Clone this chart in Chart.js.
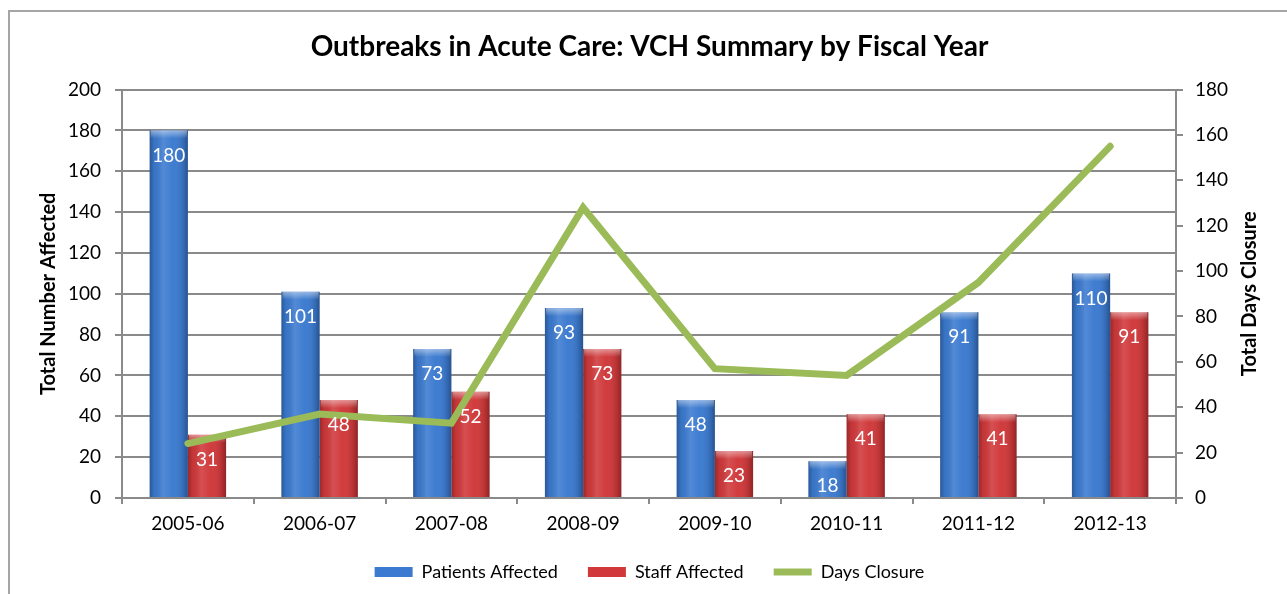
<!DOCTYPE html>
<html>
<head>
<meta charset="utf-8">
<title>Outbreaks in Acute Care</title>
<script src="https://cdn.jsdelivr.net/npm/chart.js@4.4.1/dist/chart.umd.min.js"></script>
<style>
  html, body { margin: 0; padding: 0; background: #fff; overflow: hidden; }
  #wrap { position: relative; width: 1287px; height: 594px; }
  #frame { position: absolute; left: 8px; top: 10px; width: 1320px; height: 620px;
           border: 2px solid #a5a5a5; box-sizing: border-box; }
  #chart { position: absolute; left: 0; top: 0; }
</style>
</head>
<body>
<div id="wrap">
  <div id="frame"></div>
  <canvas id="chart" width="1287" height="594"></canvas>
</div>
<script>
// fiscal years and counts per year
const years = ['2005-06', '2006-07', '2007-08', '2008-09', '2009-10', '2010-11', '2011-12', '2012-13'];
const patientsAffected = [180, 101, 73, 93, 48, 18, 91, 110];
const staffAffected = [31, 48, 52, 73, 23, 41, 41, 91];
const daysClosure = [24, 37, 33, 128, 57, 54, 95, 155];

const FONT = 'Lato, "Open Sans", sans-serif';
const gridGray = '#8a8a8a';

// shading so the bars look like rounded columns
const barShade = {
    id: 'barShade',
    afterDatasetDraw(chart, args) {
        if (args.meta.type !== 'bar') return;
        const ctx = chart.ctx;
        ctx.save();
        args.meta.data.forEach(function (bar) {
            const p = bar.getProps(['x', 'y', 'base', 'width'], true);
            const left = p.x - p.width / 2;
            const h = p.base - p.y;
            let g = ctx.createLinearGradient(left, 0, left + p.width, 0);
            g.addColorStop(0, 'rgba(0,0,0,0.28)');
            g.addColorStop(0.12, 'rgba(0,0,0,0.05)');
            g.addColorStop(0.35, 'rgba(255,255,255,0.12)');
            g.addColorStop(0.6, 'rgba(255,255,255,0.02)');
            g.addColorStop(0.88, 'rgba(0,0,0,0.12)');
            g.addColorStop(1, 'rgba(0,0,0,0.32)');
            ctx.fillStyle = g;
            ctx.fillRect(left, p.y, p.width, h);
            // lighter cap on top
            let cap = ctx.createLinearGradient(0, p.y, 0, p.y + 8);
            cap.addColorStop(0, 'rgba(255,255,255,0.45)');
            cap.addColorStop(1, 'rgba(255,255,255,0)');
            ctx.fillStyle = cap;
            ctx.fillRect(left + 1, p.y, p.width - 2, Math.min(8, h));
        });
        ctx.restore();
    }
};

// value labels inside the bars, axis titles
const extras = {
    id: 'extras',
    afterDatasetsDraw(chart) {
        const ctx = chart.ctx;
        ctx.save();
        ctx.fillStyle = '#ffffff';
        ctx.font = '19px ' + FONT;
        ctx.textAlign = 'center';
        ctx.textBaseline = 'middle';
        [0, 1].forEach(function (i) {
            const meta = chart.getDatasetMeta(i);
            meta.data.forEach(function (bar, j) {
                ctx.fillText(String(chart.data.datasets[i].data[j]), bar.x, bar.y + 25);
            });
        });
        ctx.restore();
    },
    afterDraw(chart) {
        const ctx = chart.ctx;
        const area = chart.chartArea;
        const midY = (area.top + area.bottom) / 2;
        ctx.save();
        ctx.fillStyle = '#000';
        ctx.font = 'bold 20px ' + FONT;
        ctx.textAlign = 'center';
        ctx.textBaseline = 'middle';
        ctx.translate(area.left - 73, midY);
        ctx.rotate(-Math.PI / 2);
        ctx.fillText('Total Number Affected', 0, 0);
        ctx.restore();
        ctx.save();
        ctx.fillStyle = '#000';
        ctx.font = 'bold 20px ' + FONT;
        ctx.textAlign = 'center';
        ctx.textBaseline = 'middle';
        ctx.translate(area.right + 74, midY);
        ctx.rotate(-Math.PI / 2);
        ctx.fillText('Total Days Closure', 0, 0);
        ctx.restore();
    }
};

new Chart(document.getElementById('chart'), {
    type: 'bar',
    data: {
        labels: years,
        datasets: [
            {
                label: 'Patients Affected',
                data: patientsAffected,
                backgroundColor: '#3b7ad0',
                borderWidth: 0,
                yAxisID: 'y',
                order: 1,
                pointStyle: 'rect',
                categoryPercentage: 0.58,
                barPercentage: 1
            },
            {
                label: 'Staff Affected',
                data: staffAffected,
                backgroundColor: '#d0383a',
                borderWidth: 0,
                yAxisID: 'y',
                order: 1,
                pointStyle: 'rect',
                categoryPercentage: 0.58,
                barPercentage: 1
            },
            {
                type: 'line',
                label: 'Days Closure',
                data: daysClosure,
                borderColor: '#9bbb59',
                backgroundColor: '#9bbb59',
                borderWidth: 7,
                borderCapStyle: 'round',
                borderJoinStyle: 'miter',
                pointRadius: 0,
                pointHoverRadius: 0,
                pointStyle: 'line',
                tension: 0,
                yAxisID: 'y1',
                order: 0
            }
        ]
    },
    options: {
        responsive: false,
        animation: false,
        events: [],
        layout: { padding: { left: 26, right: 14, top: 0, bottom: 3 } },
        plugins: {
            title: {
                display: true,
                text: 'Outbreaks in Acute Care: VCH Summary by Fiscal Year',
                color: '#000',
                font: { family: FONT, size: 28, weight: 'bold' },
                padding: { top: 30, bottom: 26 }
            },
            legend: {
                position: 'bottom',
                labels: {
                    usePointStyle: true,
                    pointStyleWidth: 38,
                    boxHeight: 10,
                    color: '#000',
                    font: { family: FONT, size: 18 },
                    padding: 30,
                    sort: function (a, b) { return a.datasetIndex - b.datasetIndex; }
                }
            },
            tooltip: { enabled: false }
        },
        scales: {
            x: {
                offset: true,
                grid: { offset: true, drawOnChartArea: false, drawTicks: true, tickLength: 6, color: gridGray, lineWidth: 2 },
                border: { color: gridGray, width: 2 },
                ticks: { color: '#000', font: { family: FONT, size: 19 }, padding: 8 },
                afterFit: function (s) { s.height = 35; }
            },
            y: {
                position: 'left',
                min: 0,
                max: 200,
                ticks: { stepSize: 20, color: '#000', font: { family: FONT, size: 19 }, padding: 14 },
                grid: { color: gridGray, lineWidth: 2, tickLength: 7 },
                border: { color: gridGray, width: 2 },
                afterFit: function (s) { s.width = 96; }
            },
            y1: {
                position: 'right',
                min: 0,
                max: 180,
                ticks: { stepSize: 20, color: '#000', font: { family: FONT, size: 19 }, padding: 12 },
                grid: { drawOnChartArea: false, color: gridGray, lineWidth: 2, tickLength: 7 },
                border: { color: gridGray, width: 2 },
                afterFit: function (s) { s.width = 97; }
            }
        }
    },
    plugins: [barShade, extras]
});
</script>
</body>
</html>
